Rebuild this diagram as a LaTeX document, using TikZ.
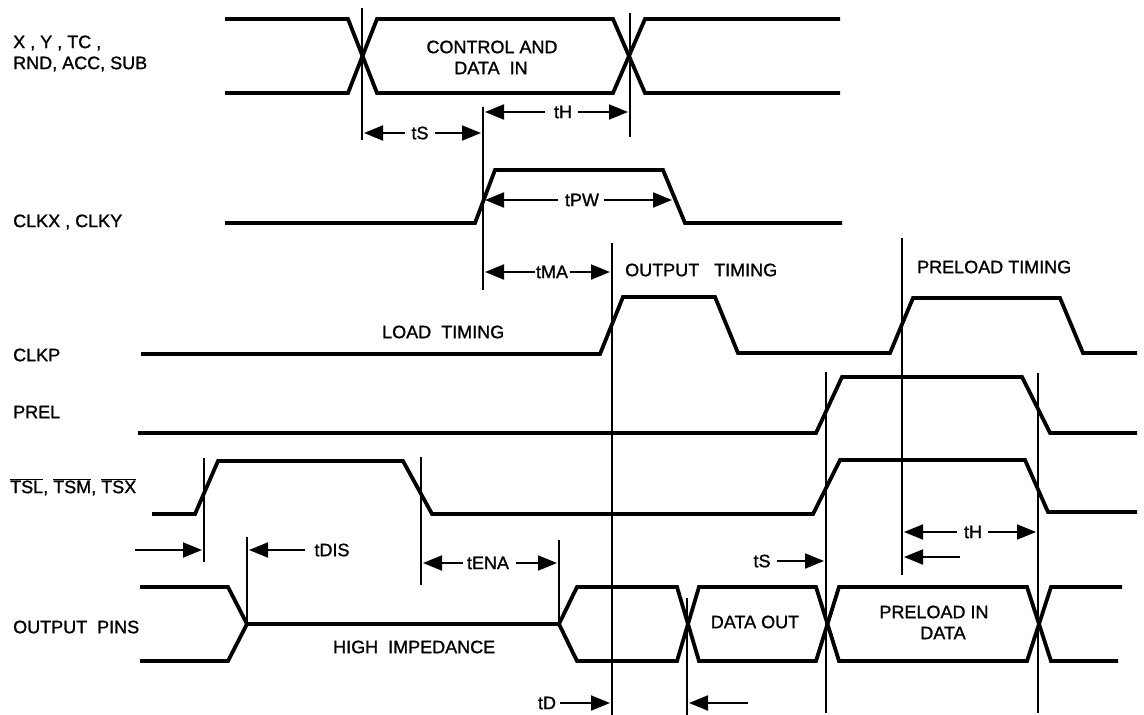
\documentclass[tikz,border=0pt]{standalone}
\usepackage{fontspec}
\setmainfont{Liberation Sans}
\newfontfamily\lblfont{Liberation Sans}[FakeBold=1.2]
\usetikzlibrary{arrows.meta}
\newcommand\ovlbar[1]{$\overline{\mbox{\lblfont #1}}$}
\begin{document}
\begin{tikzpicture}[x=1pt,y=-1pt,
  sig/.style={line width=3.8pt},
  vline/.style={line width=1.9pt},
  dim/.style={line width=1.9pt,-{Triangle[length=19pt,width=15pt]}},
  lbl/.style={font=\lblfont\fontsize{18}{21}\selectfont,inner sep=0pt}]
\useasboundingbox[fill=white] (0,0) rectangle (1144,715);

% ---------- signals ----------
% X,Y,... data in
\draw[sig] (225,19) -- (348,19) -- (377,93) -- (613,93) -- (645,19) -- (840,19);
\draw[sig] (225,93) -- (348,93) -- (377,19) -- (613,19) -- (645,93) -- (840,93);
% CLKX, CLKY
\draw[sig] (225,223) -- (475,223) -- (495,170) -- (663,170) -- (685,223) -- (842,223);
% CLKP
\draw[sig] (141,354) -- (600,354) -- (623,297) -- (715,297) -- (738,353) -- (890,353)
  -- (913,298) -- (1060,298) -- (1083,353) -- (1137,353);
% PREL
\draw[sig] (138,433) -- (816,433) -- (842,377) -- (1022,377) -- (1050,433) -- (1137,433);
% TSL TSM TSX
\draw[sig] (152,514) -- (195,514) -- (218,461) -- (403,461) -- (432,514) -- (813,514)
  -- (840,460) -- (1025,460) -- (1048,512) -- (1137,512);
% Output pins
\draw[sig] (140,587) -- (228,587) -- (247,624) -- (559,624) -- (577,587) -- (677,587)
  -- (699,661) -- (816,661) -- (839,587) -- (1027,587) -- (1051,661) -- (1118,661);
\draw[sig] (140,661) -- (228,661) -- (247,624);
\draw[sig] (559,624) -- (577,661) -- (677,661) -- (699,587) -- (816,587) -- (839,661)
  -- (1027,661) -- (1051,587) -- (1122,587);

% ---------- reference lines ----------
\draw[vline] (362,8) -- (362,140);
\draw[vline] (630,13) -- (630,137);
\draw[vline] (483,107) -- (483,290);
\draw[vline] (612,243) -- (612,715);
\draw[vline] (902,238) -- (902,575);
\draw[vline] (826,372) -- (826,713);
\draw[vline] (1038,373) -- (1038,713);
\draw[vline] (204,458) -- (204,562);
\draw[vline] (421,457) -- (421,585);
\draw[vline] (247,537) -- (247,624);
\draw[vline] (559,540) -- (559,623);
\draw[vline] (687,598) -- (687,715);

% ---------- labels ----------
\node[lbl,anchor=west] (lx) at (13,43) {X , Y , TC ,};
\node[lbl,anchor=west] (lrnd) at (13,64) {RND, ACC, SUB};
\node[lbl] (ctl) at (492,47) {CONTROL\ AND};
\node[lbl] (din) at (491,68) {DATA\ \ IN};
\node[lbl,anchor=west] (lclkx) at (13,222) {CLKX , CLKY};
\node[lbl] (ts1) at (420,133) {tS};
\node[lbl] (th1) at (563,112) {tH};
\node[lbl] (tpw) at (582,200) {tPW};
\node[lbl] (tma) at (552,272) {tMA};
\node[lbl,anchor=west] (outt) at (625,270) {OUTPUT\ \ \ TIMING};
\node[lbl,anchor=west] (pret) at (917,267) {PRELOAD TIMING};
\node[lbl,anchor=west] (loadt) at (382,332) {LOAD\ \ TIMING};
\node[lbl,anchor=west] (lclkp) at (13,355) {CLKP};
\node[lbl,anchor=west] (lprel) at (13,412) {PREL};
\node[lbl,anchor=west] (ltsl) at (10,487) {\ovlbar{TSL}, \ovlbar{TSM}, \ovlbar{TSX}};
\node[lbl] (tdis) at (332,550) {tDIS};
\node[lbl] (tena) at (488,563) {tENA};
\node[lbl] (ts2) at (762,561) {tS};
\node[lbl] (th2) at (973,532) {tH};
\node[lbl,anchor=west] (lout) at (13,627) {OUTPUT\ \ PINS};
\node[lbl,anchor=west] (hi) at (333,647) {HIGH\ \ IMPEDANCE};
\node[lbl] (dout) at (755,622) {DATA OUT};
\node[lbl] (pin) at (934,612) {PRELOAD IN};
\node[lbl] (pdat) at (943,633) {DATA};
\node[lbl] (td) at (547,703) {tD};

% ---------- dimension arrows ----------
\draw[dim] (405,133) -- (364,133);
\draw[dim] (435,133) -- (481,133);
\draw[dim] (545,112) -- (485,112);
\draw[dim] (578,112) -- (628,112);
\draw[dim] (558,200) -- (485,200);
\draw[dim] (604,200) -- (672,200);
\draw[dim] (535,272) -- (485,272);
\draw[dim] (570,272) -- (610,272);
\draw[dim] (135,550) -- (202,550);
\draw[dim] (305,550) -- (249,550);
\draw[dim] (463,563) -- (423,563);
\draw[dim] (516,563) -- (557,563);
\draw[dim] (777,561) -- (824,561);
\draw[dim] (957,532) -- (904,532);
\draw[dim] (988,532) -- (1036,532);
\draw[dim] (960,557) -- (904,557);
\draw[dim] (560,703) -- (610,703);
\draw[dim] (748,703) -- (689,703);
\end{tikzpicture}
\end{document}
